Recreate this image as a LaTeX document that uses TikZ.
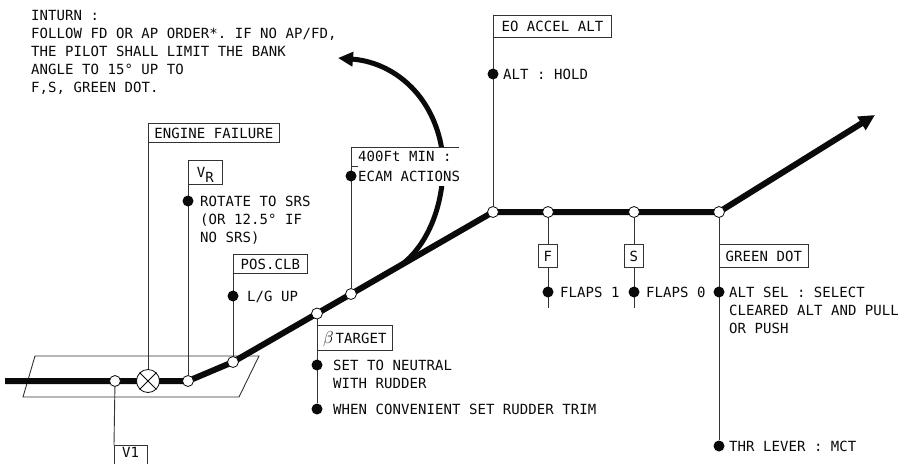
\documentclass[tikz,border=0pt]{standalone}
\usepackage{fontspec}
\setmonofont{DejaVu Sans Mono}[LetterSpace=0.5]
\usetikzlibrary{arrows.meta,backgrounds}
\definecolor{ink}{HTML}{0A0A0A}
\definecolor{leadc}{HTML}{333333}
\newcommand{\fdfont}{\ttfamily\fontsize{14}{18}\selectfont}
\begin{document}
\begin{tikzpicture}[x=1pt,y=-1pt,
  lbl/.style={font=\fdfont, text=ink, inner sep=0pt, text height=10.2pt, text depth=0pt, anchor=west},
  blk/.style={font=\fdfont, text=ink, inner sep=0pt, align=left, anchor=north west},
  tag/.style={draw=leadc, line width=0.8pt, fill=white, font=\fdfont, text=ink, inner sep=0pt,
              text height=10.2pt, text depth=0pt, anchor=north west},
  flight/.style={line width=6pt, draw=ink, line join=round},
  turnarrow/.style={line width=5pt, draw=ink},
  lead/.style={draw=leadc, line width=0.9pt},
  boxline/.style={draw=leadc, line width=0.8pt},
  hollow/.style={circle, draw=ink, line width=0.8pt, fill=white, minimum size=11pt, inner sep=0pt},
  bullet/.style={circle, fill=ink, minimum size=11pt, inner sep=0pt},
]
\useasboundingbox (0,0) rectangle (901,463);

% points of the flight path
\coordinate (start) at (5,381);
\coordinate (tip) at (875,115);
\coordinate (fend) at (548,308);
\coordinate (send) at (634,308);
\coordinate (turnstart) at (400,266);
\coordinate (turnend) at (338,58);

% circles on the path
\node[hollow] (cv1) at (115,381) {};
\node[hollow, minimum size=23pt] (xef) at (148,381) {};
\draw[line width=0.8pt, ink] (xef.north east) -- (xef.south west) (xef.north west) -- (xef.south east);
\node[hollow] (cvr) at (188,381) {};
\node[hollow] (cpc) at (233,362) {};
\node[hollow] (cbt) at (317,313.5) {};
\node[hollow] (c4) at (351,294) {};
\node[hollow] (ceo) at (493,212) {};
\node[hollow] (cf) at (548,212) {};
\node[hollow] (cs) at (634,212) {};
\node[hollow] (cgd) at (719,212) {};

% boxes
\node[tag, minimum width=131pt, minimum height=19pt] (efbox) at (148,123) {ENGINE FAILURE};
\node[tag, minimum width=34pt, minimum height=24pt] (vrbox) at (188,160) {V\raisebox{-4.5pt}{R}};
\node[tag, minimum width=74pt, minimum height=19pt] (pcbox) at (233,254) {POS.CLB};
\node[tag, minimum width=75pt, minimum height=25pt] (btbox) at (317,325) {{\fontsize{17}{17}\selectfont$\beta$}\kern2pt TARGET};
\node[tag, minimum width=118pt, minimum height=22pt] (eobox) at (493,15) {EO ACCEL ALT};
\node[tag, minimum width=19pt, minimum height=23pt] (fbox) at (538,244) {F};
\node[tag, minimum width=19pt, minimum height=23pt] (sbox) at (624,244) {S};
\node[tag, minimum width=89pt, minimum height=23pt] (gdbox) at (719,244) {GREEN DOT};

% V1 box (running off the bottom edge)
\node[font=\fdfont, text=ink, fill=white, inner sep=0pt, text height=10.2pt, text depth=0pt,
      minimum width=33pt, minimum height=15pt, anchor=north west] (v1box) at (114,445) {V1};
\draw[boxline] (v1box.south west) ++(0,12) -- (v1box.north west) -- (v1box.north east) -- ++(0,30);

% 400 ft box (open on the right)
\node[font=\fdfont, text=ink, fill=white, inner xsep=7pt, inner ysep=0pt, text height=10.2pt, text depth=0pt,
      minimum height=19pt, anchor=north west] (fourh) at (351,147) {400Ft MIN :};
\draw[boxline] (fourh.north east) -- (fourh.north west) -- (fourh.south west) -- (fourh.south east);
\node[lbl, fill=white, inner ysep=5pt] (ecam) at (358,176) {ECAM ACTIONS};

% bullets
\node[bullet] (brot) at (188,201) {};
\node[bullet] (blg) at (233,296) {};
\node[bullet] (becam) at (351,176) {};
\node[bullet] (bbt1) at (317,365) {};
\node[bullet] (bbt2) at (317,409) {};
\node[bullet] (beo) at (493,74) {};
\node[bullet] (bf) at (548,292) {};
\node[bullet] (bs) at (634,292) {};
\node[bullet] (bgd) at (719,292) {};
\node[bullet] (bthr) at (719,446) {};

% texts
\node[blk] (inturn) at (31,9.9) {INTURN :\\FOLLOW FD OR AP ORDER*. IF NO AP/FD,\\THE PILOT SHALL LIMIT THE BANK\\ANGLE TO 15° UP TO\\F,S, GREEN DOT.};
\node[blk] (rot) at (200,195.9) {ROTATE TO SRS\\(OR 12.5° IF\\NO SRS)};
\node[lbl] (lg) at (247,296) {L/G UP};
\node[blk] (neutral) at (333,359.9) {SET TO NEUTRAL\\WITH RUDDER};
\node[lbl] (trim) at (333,409) {WHEN CONVENIENT SET RUDDER TRIM};
\node[lbl] (hold) at (503,74) {ALT : HOLD};
\node[lbl] (fl1) at (560,292) {FLAPS 1};
\node[lbl] (fl0) at (646,292) {FLAPS 0};
\node[blk] (altsel) at (729,286.9) {ALT SEL : SELECT\\CLEARED ALT AND PULL\\OR PUSH};
\node[lbl] (thr) at (729,446) {THR LEVER : MCT};

\begin{scope}[on background layer]
  % runway
  \draw[lead] (35,356) -- (259,356) -- (239,397) -- (23,397) -- cycle;
  % leader lines
  \draw[lead] (efbox.north west) -- (xef);
  \draw[lead] (vrbox.north west) -- (cvr);
  \draw[lead] (pcbox.north west) -- (cpc);
  \draw[lead] (fourh.north west) -- (c4);
  \draw[lead] (eobox.north west) -- (ceo);
  \draw[lead] (cbt) -- (bbt2);
  \draw[lead] (cf) -- (fend);
  \draw[lead] (cs) -- (send);
  \draw[lead] (cgd) -- (bthr);
  \draw[lead] (cv1) -- (v1box.north west);
  % turn arrow
  \draw[turnarrow, -{Triangle[length=15pt,width=14pt]}] (turnstart) .. controls (438,238) and (449,178) .. (440,140)
        .. controls (428,90) and (390,62) .. (turnend);
  % flight path
  \draw[flight, -{Triangle[length=16pt,width=15pt]}] (start) -- (cv1.center) -- (xef.center) -- (cvr.center) -- (cpc.center)
        -- (cbt.center) -- (c4.center) -- (ceo.center) -- (cf.center) -- (cs.center) -- (cgd.center) -- (tip);
\end{scope}
\end{tikzpicture}
\end{document}
